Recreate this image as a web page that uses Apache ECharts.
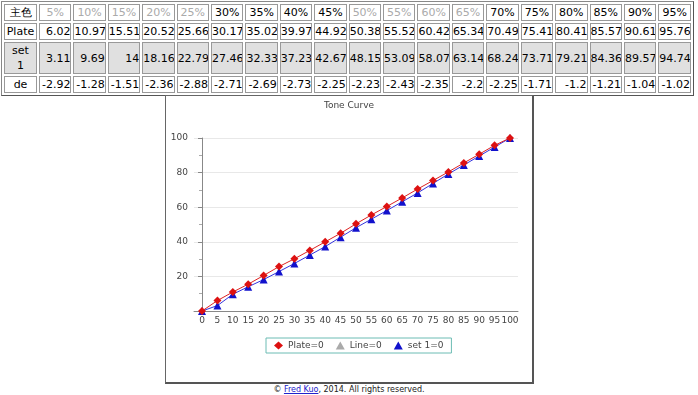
<!DOCTYPE html>
<html>
<head>
<meta charset="utf-8">
<script src="https://cdn.jsdelivr.net/npm/echarts@6/dist/echarts.min.js"></script>
<style>
html,body{margin:0;padding:0;background:#fff;}
body{width:698px;height:395px;position:relative;overflow:hidden;font-family:"DejaVu Sans",Verdana,sans-serif;}
#tbl{position:absolute;left:1px;top:1px;border:1px solid #888;border-right-color:#555;border-bottom-color:#555;border-collapse:separate;border-spacing:2px;table-layout:fixed;width:693px;font-size:11px;}
#tbl td{border:1px solid #999;padding:0;line-height:15px;white-space:nowrap;overflow:hidden;}
#tbl td.lab{text-align:center;}
#tbl td.hd{text-align:center;}
#tbl td.num{text-align:right;}
#tbl tr.grey td{background:#e0e0e0;height:30px;}
#tbl td.light{color:#aaa;}
#frame{position:absolute;left:165px;top:95px;width:366px;height:286px;border:1px solid #666;border-right:2px solid #555;border-bottom:2px solid #555;}
#chart{width:366px;height:286px;}
#copy{position:absolute;left:0;width:698px;top:385px;text-align:center;font-size:8px;color:#222;}
#copy a{color:#22c;text-decoration:underline;}
</style>
</head>
<body>
<table id="tbl"></table>
<div id="frame"><div id="chart"></div></div>
<div id="copy">© <a>Fred Kuo</a>, 2014. All rights reserved.</div>
<script>
// ---- data ----
const rowLabels = ['主色', 'Plate', 'set 1', 'de'];
const percents = ['5%','10%','15%','20%','25%','30%','35%','40%','45%','50%','55%','60%','65%','70%','75%','80%','85%','90%','95%'];
const plateTable = [6.02,10.97,15.51,20.52,25.66,30.17,35.02,39.97,44.92,50.38,55.52,60.42,65.34,70.49,75.41,80.41,85.57,90.61,95.76];
const set1Table = [3.11,9.69,14,18.16,22.79,27.46,32.33,37.23,42.67,48.15,53.09,58.07,63.14,68.24,73.71,79.21,84.36,89.57,94.74];
const deTable = [-2.92,-1.28,-1.51,-2.36,-2.88,-2.71,-2.69,-2.73,-2.25,-2.23,-2.43,-2.35,-2.2,-2.25,-1.71,-1.2,-1.21,-1.04,-1.02];

const xTicks = [0,5,10,15,20,25,30,35,40,45,50,55,60,65,70,75,80,85,90,95,100];
const plateCurve = [0,6.02,10.97,15.51,20.52,25.66,30.17,35.02,39.97,44.92,50.38,55.52,60.42,65.34,70.49,75.41,80.41,85.57,90.61,95.76,100];
const set1Curve = [0,3.11,9.69,14,18.16,22.79,27.46,32.33,37.23,42.67,48.15,53.09,58.07,63.14,68.24,73.71,79.21,84.36,89.57,94.74,100];
const lineCurve = [];
const seriesNames = ['Plate=0', 'Line=0', 'set 1=0'];
const chartTitle = 'Tone Curve';

// ---- table ----
const lightHeaders = new Set(['5%','10%','15%','20%','25%','50%','55%','60%','65%']);
const tbl = document.getElementById('tbl');
let html = '<colgroup><col style="width:33px">' + percents.map(()=>'<col>').join('') + '</colgroup>';
html += '<tr><td class="lab">' + rowLabels[0] + '</td>' + percents.map(p => '<td class="hd' + (lightHeaders.has(p) ? ' light' : '') + '">' + p + '</td>').join('') + '</tr>';
html += '<tr><td class="lab">' + rowLabels[1] + '</td>' + plateTable.map(v => '<td class="num">' + v + '</td>').join('') + '</tr>';
html += '<tr class="grey"><td class="lab" style="white-space:normal">set<br>1</td>' + set1Table.map(v => '<td class="num">' + v + '</td>').join('') + '</tr>';
html += '<tr><td class="lab">' + rowLabels[3] + '</td>' + deTable.map(v => '<td class="num">' + v + '</td>').join('') + '</tr>';
tbl.innerHTML = html;

// ---- chart ----
const chart = echarts.init(document.getElementById('chart'));
const axisText = {color:'#444', fontSize:9, fontFamily:'DejaVu Sans'};
chart.setOption({
  animation:false,
  title:{text:chartTitle, left:'center', top:0, textStyle:{fontSize:9, fontWeight:'normal', color:'#444', fontFamily:'DejaVu Sans'}},
  legend:{
    data:[
      {name:seriesNames[0], icon:'diamond'},
      {name:seriesNames[1], icon:'triangle'},
      {name:seriesNames[2], icon:'triangle'}
    ],
    left:100, top:242,
    borderColor:'#6cbcb4', borderWidth:1, padding:[3,8,3,8],
    itemWidth:9, itemHeight:8, itemGap:12,
    textStyle:{fontSize:9, color:'#444', fontFamily:'DejaVu Sans'}
  },
  grid:{left:28, right:14, top:42, bottom:71},
  xAxis:{
    type:'value', min:-2.6, max:102.6,
    axisLine:{show:true, lineStyle:{color:'#888'}},
    axisTick:{show:false},
    splitLine:{show:false},
    axisLabel:Object.assign({customValues:xTicks, margin:5}, axisText)
  },
  yAxis:{
    type:'value', min:0, max:100, interval:20,
    axisLine:{show:true, lineStyle:{color:'#888'}},
    axisTick:{show:true, length:4, lineStyle:{color:'#888'}},
    minorTick:{show:true, splitNumber:2, length:3, lineStyle:{color:'#aaa'}},
    splitLine:{show:true, lineStyle:{color:'#e8e8e8'}},
    axisLabel:Object.assign({margin:6, formatter:v => v === 0 ? '' : String(v)}, axisText)
  },
  series:[
    {name:seriesNames[0], type:'line', data:xTicks.map((x,i)=>[x, plateCurve[i]]), symbol:'diamond', symbolSize:8,
     itemStyle:{color:'#dd1111'}, lineStyle:{color:'#dd2222', width:1}, z:3},
    {name:seriesNames[1], type:'line', data:lineCurve, symbol:'triangle', symbolSize:8,
     itemStyle:{color:'#aaaaaa'}, lineStyle:{color:'#aaaaaa', width:1}},
    {name:seriesNames[2], type:'line', data:xTicks.map((x,i)=>[x, set1Curve[i]]), symbol:'triangle', symbolSize:8,
     itemStyle:{color:'#1111cc'}, lineStyle:{color:'#3333dd', width:1}, z:2}
  ]
});
</script>
</body>
</html>
